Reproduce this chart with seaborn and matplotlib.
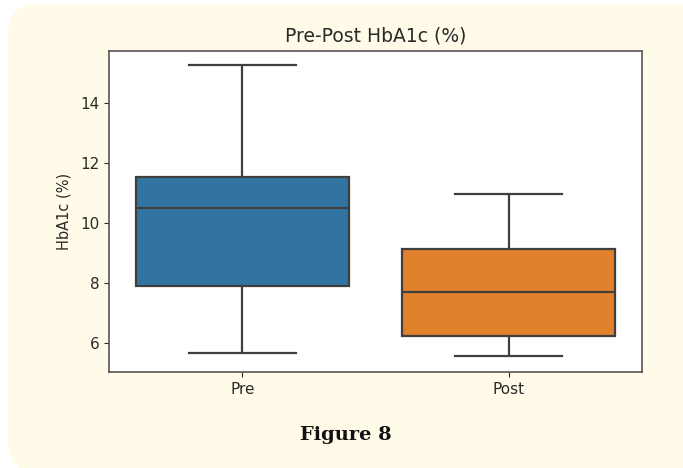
import matplotlib
matplotlib.use("Agg")
import matplotlib.pyplot as plt
from matplotlib.patches import FancyBboxPatch
import seaborn as sns
import pandas as pd

# Five-number summaries: min, Q1, median, Q3, max
groups = ["Pre", "Post"]
pre_values = [5.65, 7.9, 10.5, 11.53, 15.27]
post_values = [5.57, 6.23, 7.7, 9.13, 10.97]

df = pd.DataFrame({
    "Group": ["Pre"] * len(pre_values) + ["Post"] * len(post_values),
    "HbA1c": pre_values + post_values,
})

W, H = 683, 468
fig = plt.figure(figsize=(W / 100, H / 100), dpi=100)
fig.patch.set_facecolor("white")

bg = FancyBboxPatch((8 / W, -0.01), (W - 8) / W + 0.05, (H - 4) / H + 0.01,
                    boxstyle="round,pad=0,rounding_size=0.045",
                    transform=fig.transFigure, facecolor="#fffbe8",
                    edgecolor="none", zorder=-5, mutation_aspect=W / H)
fig.patches.append(bg)

ax = fig.add_axes([109 / W, 1 - 372 / H, (642 - 109) / W, (372 - 51) / H])
ax.set_zorder(2)
ax.set_facecolor("white")

sns.boxplot(data=df, x="Group", y="HbA1c", hue="Group", order=groups,
            palette=["#1f77b4", "#ff7f0e"], legend=False, ax=ax,
            width=0.8, linewidth=1.6, whis=1.5)

ax.set_ylim(5.03, 15.73)
ax.set_yticks([6, 8, 10, 12, 14])
ax.set_title("Pre-Post HbA1c (%)", fontsize=13.5, color="#2a2a2a", pad=7)
ax.set_xlabel("")
ax.set_ylabel("HbA1c (%)", fontsize=10.5, color="#2a2a2a", labelpad=6)
ax.tick_params(labelsize=11, colors="#2a2a2a")
for s in ax.spines.values():
    s.set_color("#555555")
    s.set_linewidth(1.2)

fig.text(346 / W, 1 - 435 / H, "Figure 8", ha="center", va="center",
         fontsize=14, fontweight="bold", family="DejaVu Serif", color="#111111")

fig.savefig("out.png", dpi=100)
